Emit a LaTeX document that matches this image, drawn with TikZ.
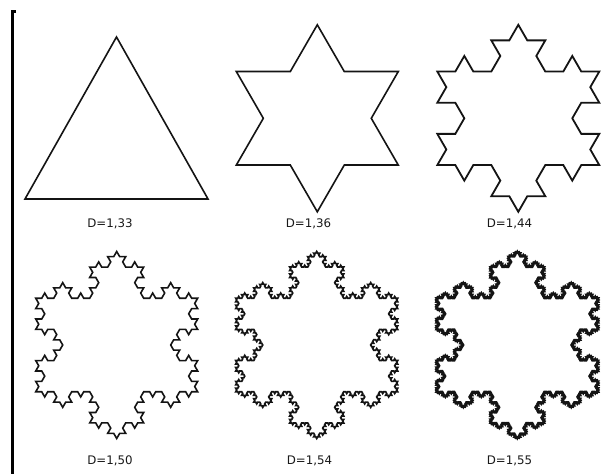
\documentclass[tikz,border=0pt]{standalone}
\usepackage{fontspec}
\setmainfont{DejaVu Sans}
\usetikzlibrary{lindenmayersystems}
\pgfdeclarelindenmayersystem{Koch}{\rule{F -> F-F++F-F}}
\newcommand\kochflake[5]{% name, cx, cy, order, step
  \begin{scope}[shift={(#2-80.97,#3-46.75)}]
    \draw[flake,#1] [l-system={Koch, axiom=F++F++F, order=#4, step=#5, angle=60}] lindenmayer system -- cycle;
  \end{scope}}
\begin{document}
\begin{tikzpicture}[x=1pt,y=1pt,
  dlabel/.style={font=\fontsize{11.8}{14}\selectfont, text=black!90, inner sep=0pt},
  flake/.style={draw=black!92, line join=miter},
  k0/.style={line width=1.6pt},
  k1/.style={line width=1.6pt},
  k2/.style={line width=1.8pt},
  k3/.style={line width=1.6pt},
  k4/.style={line width=1.7pt},
  k5/.style={line width=2.1pt}]
\useasboundingbox (0,0) rectangle (613,474);
\fill[white] (0,0) rectangle (613,474);
% left border
\coordinate (bt) at (16,462.3);
\coordinate (bc) at (12.3,462.3);
\coordinate (bb) at (12.3,0);
\draw[line width=2.6pt, line join=miter] (bt) -- (bc) -- (bb);
% level 0 triangle
\coordinate (t1) at (25,275);
\coordinate (t2) at (208,275);
\coordinate (t3) at (116.5,437);
\draw[flake, k0] (t1) -- (t2) -- (t3) -- cycle;
% snowflakes
\kochflake{k1}{317.3}{355.7}{1}{53.98pt}
\kochflake{k2}{518.3}{355.7}{2}{17.994pt}
\kochflake{k3}{116.7}{129}{3}{5.998pt}
\kochflake{k4}{316.7}{129}{4}{1.9994pt}
\kochflake{k5}{517.3}{129}{5}{0.6665pt}
% labels
\node[dlabel] (d0) at (110,250) {D=1,33};
\node[dlabel] (d1) at (308.5,250) {D=1,36};
\node[dlabel] (d2) at (509.5,250) {D=1,44};
\node[dlabel] (d3) at (110,13) {D=1,50};
\node[dlabel] (d4) at (309.5,13) {D=1,54};
\node[dlabel] (d5) at (509.5,13) {D=1,55};
\end{tikzpicture}
\end{document}
